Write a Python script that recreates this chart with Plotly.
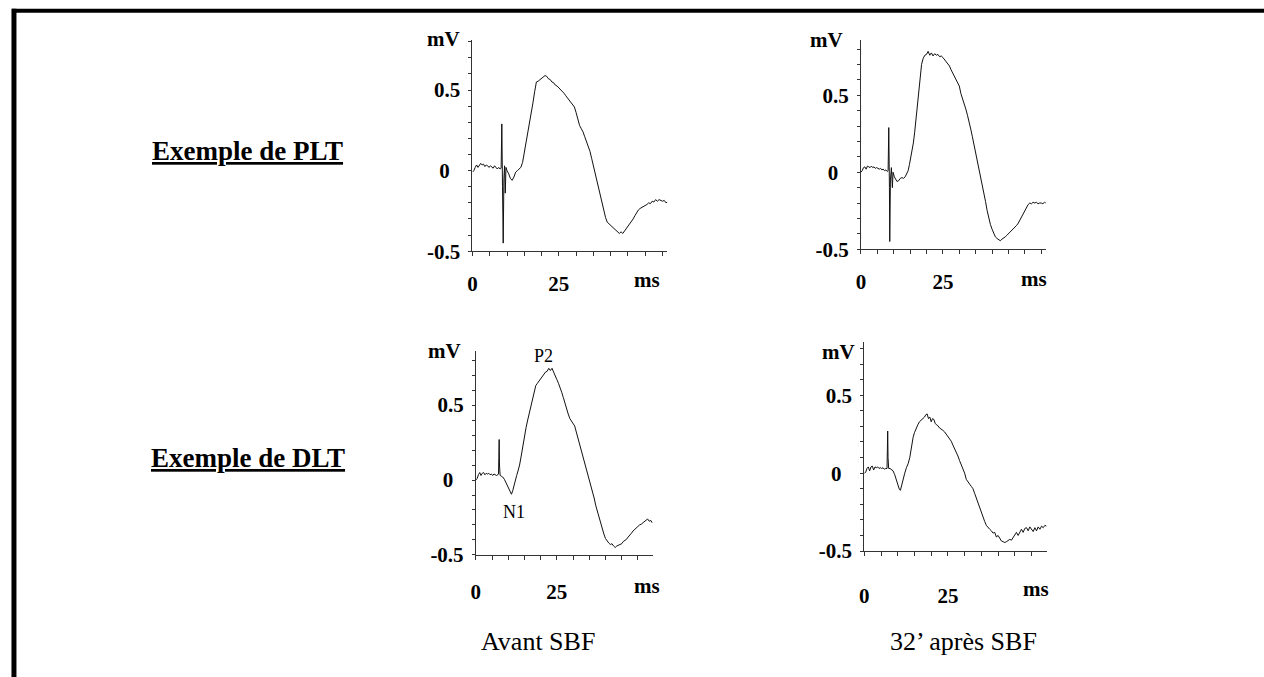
import plotly.graph_objects as go

W, H = 1264, 677

# ---------------- data (ms, mV) ----------------
plt_avant_t = [0.0,0.4,0.8,1.2,1.6,2.0,2.4,2.8,3.2,3.6,4.0,4.4,4.8,5.2,5.6,6.0,6.4,6.8,7.2,7.6,8.0,8.3,8.4,8.5,8.7,8.9,9.1,9.3,9.5,9.7,10.0,10.5,11.0,11.5,12.0,12.5,13.0,13.5,14.0,14.5,15.0,15.5,16.0,16.5,17.0,17.5,18.0,18.5,19.0,19.5,20.0,20.5,21.0,21.5,22.0,22.5,23.0,23.5,24.0,24.5,25.0,25.5,26.0,26.5,27.0,27.5,28.0,28.5,29.0,29.5,30.0,30.5,31.0,31.5,32.0,32.5,33.0,33.5,34.0,34.5,35.0,35.5,36.0,36.5,37.0,37.5,38.0,38.5,39.0,39.5,40.0,40.5,41.0,41.5,42.0,42.5,43.0,43.5,44.0,44.5,45.0,45.5,46.0,46.5,47.0,47.5,48.0,48.5,49.0,49.5,50.0,50.5,51.0,51.5,52.0,52.5,53.0,53.5,54.0,54.5,55.0,55.5,56.0,56.4]
plt_avant_v = [-0.01,0.0,0.02,0.035,0.02,0.03,0.045,0.035,0.04,0.025,0.035,0.03,0.02,0.03,0.025,0.015,0.03,0.02,0.01,0.02,0.01,0.015,0.14,0.29,-0.1,-0.45,-0.05,0.03,-0.14,0.02,0.0,-0.02,-0.05,-0.06,-0.04,-0.01,0.0,0.01,0.02,0.05,0.11,0.17,0.22,0.29,0.35,0.42,0.49,0.55,0.555,0.565,0.575,0.585,0.59,0.585,0.57,0.565,0.55,0.545,0.53,0.525,0.515,0.505,0.49,0.48,0.465,0.45,0.44,0.425,0.41,0.395,0.36,0.32,0.28,0.26,0.24,0.21,0.18,0.15,0.12,0.075,0.03,-0.02,-0.07,-0.12,-0.16,-0.21,-0.25,-0.29,-0.32,-0.33,-0.34,-0.35,-0.355,-0.37,-0.38,-0.39,-0.38,-0.39,-0.375,-0.36,-0.35,-0.335,-0.315,-0.30,-0.28,-0.26,-0.245,-0.235,-0.23,-0.22,-0.215,-0.21,-0.2,-0.205,-0.19,-0.195,-0.18,-0.19,-0.18,-0.185,-0.19,-0.185,-0.2,-0.195]

plt_apres_t = [0.0,0.4,0.8,1.2,1.6,2.0,2.4,2.8,3.2,3.6,4.0,4.4,4.8,5.2,5.6,6.0,6.4,6.8,7.2,7.6,8.0,8.3,8.4,8.5,8.7,8.8,9.0,9.3,9.6,9.8,10.2,10.6,11.0,11.5,12.0,12.5,13.0,13.5,14.0,14.4,14.8,15.2,15.6,16.0,16.4,16.8,17.2,17.6,18.0,18.5,19.0,19.5,20.0,20.5,21.0,21.5,22.0,22.5,23.0,23.5,24.0,24.5,25.0,25.5,26.0,26.5,27.0,27.5,28.0,28.5,29.0,29.5,30.0,30.5,31.0,31.5,32.0,32.5,33.0,33.5,34.0,34.5,35.0,35.5,36.0,36.5,37.0,37.5,38.0,38.5,39.0,39.5,40.0,40.5,41.0,41.5,42.0,42.5,43.0,43.5,44.0,44.5,45.0,45.5,46.0,46.5,47.0,47.5,48.0,48.5,49.0,49.5,50.0,50.5,51.0,51.5,52.0,52.5,53.0,53.5,54.0,54.5,55.0,55.5,56.0,56.4]
plt_apres_v = [0.0,0.01,0.03,0.035,0.02,0.04,0.035,0.03,0.04,0.03,0.035,0.025,0.03,0.025,0.02,0.025,0.015,0.02,0.01,0.015,0.005,0.01,0.14,0.29,-0.1,-0.45,-0.05,0.03,-0.1,0.0,-0.03,-0.05,-0.06,-0.055,-0.04,-0.035,-0.04,-0.03,-0.01,0.01,0.05,0.09,0.13,0.19,0.26,0.34,0.43,0.51,0.6,0.7,0.74,0.76,0.765,0.785,0.76,0.775,0.755,0.77,0.76,0.765,0.75,0.755,0.745,0.73,0.72,0.70,0.69,0.665,0.645,0.62,0.6,0.575,0.56,0.51,0.48,0.45,0.41,0.37,0.33,0.28,0.23,0.18,0.13,0.08,0.02,-0.04,-0.09,-0.13,-0.19,-0.25,-0.3,-0.34,-0.37,-0.4,-0.42,-0.43,-0.44,-0.445,-0.435,-0.43,-0.42,-0.41,-0.4,-0.39,-0.375,-0.365,-0.355,-0.345,-0.33,-0.31,-0.28,-0.26,-0.24,-0.22,-0.21,-0.2,-0.205,-0.195,-0.2,-0.195,-0.205,-0.2,-0.2,-0.205,-0.195,-0.2]

dlt_avant_t = [0.0,0.4,0.8,1.2,1.6,2.0,2.4,2.8,3.2,3.6,4.0,4.4,4.8,5.2,5.6,6.0,6.4,6.8,7.0,7.1,7.2,7.3,7.5,7.9,8.3,8.8,9.3,9.8,10.3,10.7,11.0,11.4,11.8,12.2,12.6,13.0,13.5,14.0,14.5,15.0,15.5,16.0,16.5,17.0,17.5,18.0,18.5,19.0,19.5,20.0,20.5,21.0,21.5,22.0,22.5,23.0,23.5,24.0,24.5,25.0,25.5,26.0,26.5,27.0,27.5,28.0,28.5,29.0,29.5,30.0,30.5,31.0,31.5,32.0,32.5,33.0,33.5,34.0,34.5,35.0,35.5,36.0,36.5,37.0,37.5,38.0,38.5,39.0,39.5,40.0,40.5,41.0,41.5,42.0,42.5,43.0,43.5,44.0,44.5,45.0,45.5,46.0,46.5,47.0,47.5,48.0,48.5,49.0,49.5,50.0,50.5,51.0,51.5,52.0,52.5,53.0,53.5,54.0,54.4]
dlt_avant_v = [0.0,0.01,0.035,0.05,0.03,0.045,0.05,0.035,0.045,0.04,0.045,0.035,0.04,0.03,0.04,0.035,0.03,0.035,0.04,0.15,0.27,0.1,0.03,0.025,0.02,0.005,-0.02,-0.04,-0.065,-0.09,-0.095,-0.07,-0.03,0.0,0.03,0.06,0.1,0.16,0.23,0.29,0.35,0.4,0.45,0.5,0.55,0.6,0.63,0.645,0.66,0.67,0.69,0.705,0.72,0.725,0.745,0.73,0.745,0.72,0.7,0.67,0.645,0.62,0.585,0.55,0.51,0.47,0.44,0.41,0.39,0.38,0.36,0.32,0.28,0.25,0.21,0.17,0.13,0.09,0.05,0.0,-0.04,-0.08,-0.12,-0.17,-0.21,-0.25,-0.28,-0.32,-0.36,-0.39,-0.41,-0.42,-0.43,-0.425,-0.44,-0.45,-0.44,-0.435,-0.43,-0.425,-0.41,-0.405,-0.395,-0.38,-0.37,-0.355,-0.34,-0.33,-0.315,-0.31,-0.3,-0.295,-0.285,-0.28,-0.27,-0.26,-0.275,-0.27,-0.285]

dlt_apres_t = [0.0,0.4,0.8,1.2,1.6,2.0,2.4,2.8,3.2,3.6,4.0,4.4,4.8,5.2,5.6,6.0,6.4,6.8,6.9,7.0,7.1,7.3,7.7,8.2,8.6,9.1,9.6,10.1,10.5,10.8,11.2,11.6,12.1,12.6,13.1,13.6,14.1,14.6,15.0,15.5,16.0,16.5,17.0,17.5,18.0,18.4,18.8,19.2,19.6,20.0,20.4,20.8,21.2,21.6,22.0,22.5,23.0,23.5,24.0,24.5,25.0,25.5,26.0,26.5,27.0,27.5,28.0,28.5,29.0,29.5,30.0,30.5,31.0,31.5,32.0,32.5,33.0,33.5,34.0,34.5,35.0,35.5,36.0,36.5,37.0,37.5,38.0,38.5,39.0,39.5,40.0,40.5,41.0,41.5,42.0,42.5,43.0,43.5,44.0,44.5,45.0,45.5,46.0,46.5,47.0,47.5,48.0,48.5,49.0,49.5,50.0,50.5,51.0,51.5,52.0,52.5,53.0,53.5,54.0,54.5]
dlt_apres_v = [0.0,0.005,0.03,0.04,0.015,0.04,0.045,0.02,0.04,0.035,0.04,0.03,0.035,0.03,0.035,0.025,0.03,0.03,0.15,0.27,0.1,0.03,0.03,0.02,0.015,-0.01,-0.045,-0.08,-0.105,-0.11,-0.07,-0.035,0.0,0.035,0.06,0.1,0.17,0.23,0.26,0.29,0.31,0.33,0.34,0.355,0.36,0.375,0.38,0.35,0.36,0.33,0.35,0.345,0.32,0.31,0.305,0.29,0.285,0.275,0.265,0.25,0.235,0.225,0.205,0.18,0.16,0.13,0.11,0.08,0.055,0.035,0.0,-0.04,-0.06,-0.07,-0.085,-0.1,-0.13,-0.16,-0.19,-0.23,-0.26,-0.29,-0.31,-0.335,-0.35,-0.36,-0.37,-0.385,-0.38,-0.41,-0.4,-0.42,-0.435,-0.44,-0.445,-0.44,-0.435,-0.425,-0.43,-0.41,-0.395,-0.38,-0.4,-0.375,-0.36,-0.38,-0.355,-0.35,-0.37,-0.345,-0.36,-0.375,-0.35,-0.37,-0.345,-0.36,-0.34,-0.35,-0.335,-0.34]

x_tickvals = [0, 5, 10, 15, 20, 25, 30, 35, 40, 45, 50, 55]
x_ticktext = ["0", "", "", "", "", "25", "", "", "", "", "", ""]
y_tickvals = [-0.5, -0.4, -0.3, -0.2, -0.1, 0.0, 0.1, 0.2, 0.3, 0.4, 0.5, 0.6, 0.7, 0.8]
y_ticktext = ["-0.5", "", "", "", "", "0\u2002", "", "", "", "", "0.5", "", "", ""]

row_labels = ["Exemple de PLT", "Exemple de DLT"]
col_labels = ["Avant SBF", "32\u2019 après SBF"]

# ---------------- layout geometry (pixels) ----------------
panels = [
    dict(t=plt_avant_t, v=plt_avant_v, x0=469.3, x1=665.0, yb=255.7, yt=41.0, xmax=56.4, ymax=0.809, ms=(645, 285), mv=(440, 40), so_x=10),
    dict(t=plt_apres_t, v=plt_apres_v, x0=859.3, x1=1045.0, yb=253.7, yt=41.0, xmax=56.4, ymax=0.857, ms=(1033, 284), mv=(825, 41), so_x=10),
    dict(t=dlt_avant_t, v=dlt_avant_v, x0=472.7, x1=650.7, yb=565.0, yt=357.7, xmax=54.7, ymax=0.858, ms=(645, 597), mv=(441, 357), so_x=14),
    dict(t=dlt_apres_t, v=dlt_apres_v, x0=862.7, x1=1045.7, yb=561.0, yt=348.3, xmax=54.5, ymax=0.841, ms=(1035, 600), mv=(837, 358), so_x=22),
]

SERIF = "Liberation Serif"
AX = "#333333"
TICK_SIZE = 21
fig = go.Figure()
layout = dict(
    width=W, height=H, autosize=False,
    margin=dict(l=0, r=0, t=0, b=0, pad=0),
    paper_bgcolor="white", plot_bgcolor="white",
    showlegend=False,
    font=dict(family=SERIF, color="black"),
)
annotations = []
for i, p in enumerate(panels, start=1):
    xa = "x" if i == 1 else f"x{i}"
    ya = "y" if i == 1 else f"y{i}"
    fig.add_trace(go.Scatter(x=p["t"], y=p["v"], mode="lines", xaxis=xa, yaxis=ya,
                             line=dict(color="#111111", width=1), hoverinfo="skip"))
    layout[f"xaxis{'' if i == 1 else i}"] = dict(
        domain=[p["x0"] / W, p["x1"] / W], anchor=ya, range=[0, p["xmax"]],
        showline=True, linecolor=AX, linewidth=1, showgrid=False, zeroline=False,
        ticks="outside", ticklen=4, tickwidth=1, tickcolor=AX,
        tickmode="array", tickvals=x_tickvals, ticktext=x_ticktext,
        tickfont=dict(family=SERIF, size=TICK_SIZE, weight="bold", color="black"),
        ticklabelstandoff=p["so_x"],
    )
    layout[f"yaxis{'' if i == 1 else i}"] = dict(
        domain=[1 - p["yb"] / H, 1 - p["yt"] / H], anchor=xa, range=[-0.5, p["ymax"]],
        showline=True, linecolor=AX, linewidth=1, showgrid=False, zeroline=False,
        ticks="outside", ticklen=3, tickwidth=1, tickcolor=AX,
        tickmode="array", tickvals=y_tickvals, ticktext=y_ticktext,
        tickfont=dict(family=SERIF, size=TICK_SIZE, weight="bold", color="black"),
        ticklabelstandoff=4,
    )
    annotations.append(dict(text="ms", x=p["ms"][0] / W, y=1 - p["ms"][1] / H, xref="paper", yref="paper",
                            showarrow=False, xanchor="center", yanchor="middle",
                            font=dict(family=SERIF, size=TICK_SIZE, weight="bold", color="black")))
    annotations.append(dict(text="mV", x=p["mv"][0] / W, y=1 - p["mv"][1] / H, xref="paper", yref="paper",
                            showarrow=False, xanchor="center", yanchor="middle",
                            font=dict(family=SERIF, size=TICK_SIZE, weight="bold", color="black")))

# peak labels on the DLT "avant" trace
annotations.append(dict(text="P2", x=21.0, y=0.83, xref="x3", yref="y3", showarrow=False,
                        font=dict(family=SERIF, size=18, color="black")))
annotations.append(dict(text="N1", x=11.8, y=-0.215, xref="x3", yref="y3", showarrow=False,
                        font=dict(family=SERIF, size=18, color="black")))

# row headings
for lab, yc in zip(row_labels, [154, 466]):
    annotations.append(dict(text=lab, x=243.5 / W, y=1 - yc / H, xref="paper", yref="paper",
                            showarrow=False, xanchor="center", yanchor="middle",
                            font=dict(family=SERIF, size=27, weight="bold", color="black",
                                      lineposition="under")))
# column captions
for lab, xc in zip(col_labels, [535, 962]):
    annotations.append(dict(text=lab, x=xc / W, y=1 - 653 / H, xref="paper", yref="paper",
                            showarrow=False, xanchor="center", yanchor="middle",
                            font=dict(family=SERIF, size=26, color="black")))

layout["annotations"] = annotations
layout["shapes"] = [
    dict(type="line", xref="paper", yref="paper", x0=9 / W, x1=9 / W, y0=1 - 9 / H, y1=-0.05,
         line=dict(color="black", width=5)),
    dict(type="line", xref="paper", yref="paper", x0=7 / W, x1=1.05, y0=1 - 11 / H, y1=1 - 11 / H,
         line=dict(color="black", width=4)),
]
fig.update_layout(**layout)
fig.write_html("out.html", include_plotlyjs=True, config={"displayModeBar": False})
